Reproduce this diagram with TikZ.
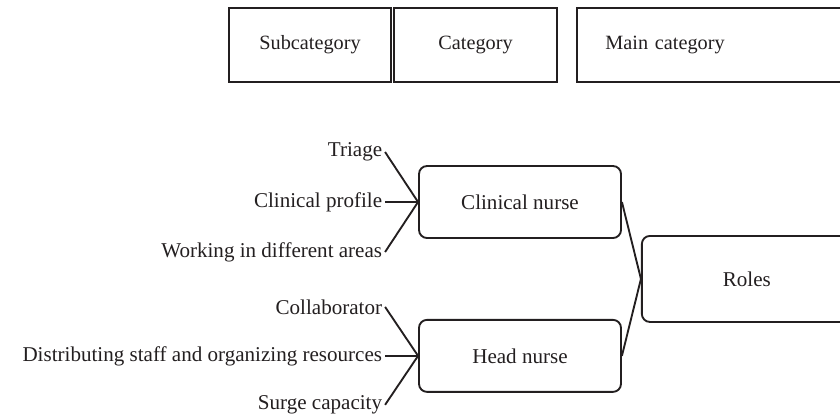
\documentclass[tikz,border=0pt]{standalone}
\usepackage{fontspec}
\setmainfont{Liberation Serif}
\usepackage{tikz}
\usetikzlibrary{positioning,calc}
\definecolor{inkdark}{HTML}{231F20}

\begin{document}
\begin{tikzpicture}[
  header/.style={draw=inkdark, line width=1.4pt, minimum width=122pt, minimum height=56pt, align=center, text=inkdark, font=\fontsize{15.2}{18}\selectfont},
  theme/.style={draw=inkdark, line width=1.4pt, rounded corners=6pt, minimum width=151.5pt, minimum height=54pt, align=center, text=inkdark, font=\fontsize{15.8}{18}\selectfont},
  item/.style={inner xsep=2pt, text=inkdark, font=\fontsize{15.8}{18}\selectfont},
  link/.style={line width=1.4pt, draw=inkdark}
]
  \useasboundingbox (0,0) rectangle (630pt,-311.25pt);

  \node[header] (subcat) at (232.5pt,-33.75pt) {Subcategory};
  \node[header, right=0.75pt of subcat] (cat) {Category};
  \node[header, right=14pt of cat, text width=160pt, align=left, inner xsep=21pt] (maincat) {Main category};

  \node[theme] (clin) at (390pt,-151.5pt) {Clinical nurse};
  \node[theme, below=60pt of clin] (head) {Head nurse};
  \coordinate (mid) at ($(clin.east)!.5!(head.east)$);
  \node[theme, right=14.25pt of mid, minimum width=157.5pt, minimum height=64.5pt] (roles) {Roles};

  \node[item, left=24.75pt of clin] (profile) {Clinical profile};
  \node[item, above=37.5pt of profile.east, anchor=east] (triage) {Triage};
  \node[item, below=37.5pt of profile.east, anchor=east] (areas) {Working in different areas};

  \node[item, left=24.75pt of head] (staff) {Distributing staff and organizing resources};
  \node[item, above=36.75pt of staff.east, anchor=east] (collab) {Collaborator};
  \node[item, below=36.75pt of staff.east, anchor=east] (surge) {Surge capacity};

  \draw[link] (triage.east) -- (clin.west);
  \draw[link] (profile.east) -- (clin.west);
  \draw[link] (areas.east) -- (clin.west);
  \draw[link] (collab.east) -- (head.west);
  \draw[link] (staff.east) -- (head.west);
  \draw[link] (surge.east) -- (head.west);
  \draw[link] (clin.east) -- (roles.west);
  \draw[link] (head.east) -- (roles.west);
\end{tikzpicture}
\end{document}
